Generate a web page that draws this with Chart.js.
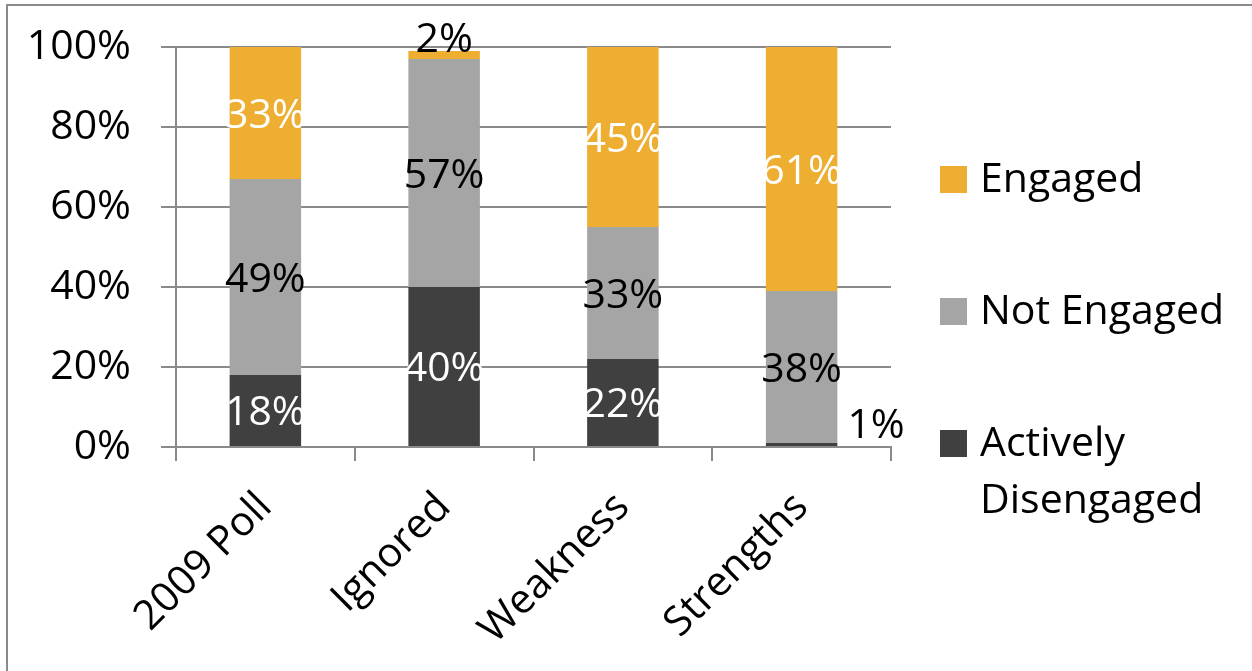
<!DOCTYPE html>
<html>
<head>
<meta charset="utf-8">
<script src="https://cdn.jsdelivr.net/npm/chart.js@4.4.0/dist/chart.umd.min.js"></script>
<style>
  html, body { margin: 0; padding: 0; background: #fff; overflow: hidden; }
  #frame { position: absolute; left: 6px; top: 4px; width: 1300px; height: 720px; border: 2px solid #8a8a8a; }
  #wrap { position: absolute; left: 0; top: 0; width: 1252px; height: 671px; }
</style>
</head>
<body>
<div id="frame"></div>
<div id="wrap"><canvas id="chart" width="1252" height="671"></canvas></div>
<script>
// datos
const categorias = ['2009 Poll', 'Ignored', 'Weakness', 'Strengths'];
const series = ['Actively Disengaged', 'Not Engaged', 'Engaged'];
const activelyDisengaged = [18, 40, 22, 1];
const notEngaged = [49, 57, 33, 38];
const engaged = [33, 2, 45, 61];
const yTicks = [0, 20, 40, 60, 80, 100];

const colores = ['#404040', '#a5a5a5', '#eeae31'];
const coloresEtiqueta = ['#ffffff', '#000000', '#ffffff'];
const FUENTE = '"Open Sans", sans-serif';

// etiquetas de datos sobre cada segmento
const etiquetasPlugin = {
  id: 'etiquetas',
  afterDatasetsDraw(chart) {
    const ctx = chart.ctx;
    ctx.save();
    ctx.font = '41px ' + FUENTE;
    ctx.textBaseline = 'middle';
    const n = chart.data.datasets.length;
    chart.data.datasets.forEach((ds, i) => {
      const meta = chart.getDatasetMeta(i);
      meta.data.forEach((bar, j) => {
        const v = ds.data[j];
        const txt = v + '%';
        let x = bar.x, y = (bar.y + bar.base) / 2 + 3;
        ctx.textAlign = 'center';
        ctx.fillStyle = coloresEtiqueta[i];
        if (v <= 2) {
          ctx.fillStyle = '#000';
          if (i === n - 1) {
            y = bar.y - 11;
          } else {
            ctx.textAlign = 'left';
            x = bar.x + bar.width / 2 + 10;
            y = bar.base - 20;
          }
        }
        ctx.fillText(txt, x, y);
      });
    });
    ctx.restore();
  }
};

// leyenda a la derecha
const leyendaPlugin = {
  id: 'leyenda',
  afterDraw(chart) {
    const ctx = chart.ctx;
    ctx.save();
    ctx.font = '41px ' + FUENTE;
    ctx.textBaseline = 'middle';
    ctx.textAlign = 'left';
    const filas = [180, 312, 444];
    const orden = [2, 1, 0];
    orden.forEach((i, k) => {
      const yc = filas[k];
      ctx.fillStyle = colores[i];
      ctx.fillRect(940, yc - 14, 27, 27);
      ctx.fillStyle = '#000';
      const partes = series[i] === 'Actively Disengaged' ? ['Actively', 'Disengaged'] : [series[i]];
      partes.forEach((p, m) => ctx.fillText(p, 980, yc + m * 57));
    });
    ctx.restore();
  }
};

const datos = [activelyDisengaged, notEngaged, engaged];

new Chart(document.getElementById('chart'), {
  type: 'bar',
  data: {
    labels: categorias,
    datasets: series.map((s, i) => ({
      label: s,
      data: datos[i],
      backgroundColor: colores[i],
      borderWidth: 0,
      categoryPercentage: 1,
      barPercentage: 0.4
    }))
  },
  options: {
    responsive: false,
    animation: false,
    layout: { padding: { top: 47, right: 361, left: 0, bottom: 0 } },
    plugins: { legend: { display: false }, tooltip: { enabled: false } },
    scales: {
      x: {
        stacked: true,
        grid: { drawOnChartArea: false, drawTicks: true, tickLength: 14, color: '#8a8a8a', lineWidth: 2 },
        border: { color: '#8a8a8a', width: 2 },
        ticks: { color: '#000', font: { family: FUENTE, size: 41 }, maxRotation: 45, minRotation: 45, padding: 22 },
        afterFit(s) { s.height = 224; }
      },
      y: {
        stacked: true,
        min: 0,
        max: 100,
        afterBuildTicks(s) { s.ticks = yTicks.map(v => ({ value: v })); },
        grid: { color: '#8a8a8a', lineWidth: 2, tickLength: 15 },
        border: { color: '#8a8a8a', width: 2 },
        ticks: { color: '#000', font: { family: FUENTE, size: 41 }, padding: 30, callback: v => v + '%' },
        afterFit(s) { s.width = 176; s.paddingTop = 0; s.paddingBottom = 0; }
      }
    }
  },
  plugins: [etiquetasPlugin, leyendaPlugin]
});
</script>
</body>
</html>
